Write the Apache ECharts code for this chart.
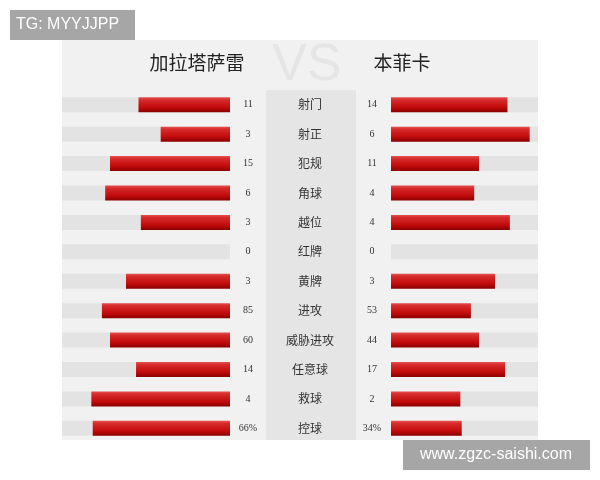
<!DOCTYPE html>
<html><head><meta charset="utf-8">
<script src="https://cdn.jsdelivr.net/npm/echarts@6/dist/echarts.min.js"></script>
<style>html,body{margin:0;padding:0;background:#fff}#c{width:600px;height:480px}</style>
</head><body><div id="c"></div>
<script>
const categories = ['射门','射正','犯规','角球','越位','红牌','黄牌','进攻','威胁进攻','任意球','救球','控球'];
const homeValues = [11,3,15,6,3,0,3,85,60,14,4,66];
const awayValues = [14,6,11,4,4,0,3,53,44,17,2,34];
const valueUnits = ['','','','','','','','','','','','%'];
const homeTeam = '加拉塔萨雷';
const awayTeam = '本菲卡';

const homeLabels = homeValues.map((v,i)=>v+valueUnits[i]);
const awayLabels = awayValues.map((v,i)=>v+valueUnits[i]);
// bar length = share of the row total (percent)
const homeShare = homeValues.map((v,i)=>{const t=v+awayValues[i];return t?100*v/t:0;});
const awayShare = awayValues.map((v,i)=>{const t=homeValues[i]+v;return t?100*v/t:0;});

const LEFT_MAX = 100*168/208, RIGHT_MAX = 100*147/208;
const red = new echarts.graphic.LinearGradient(0,0,0,1,[
  {offset:0,color:'#e65252'},{offset:0.18,color:'#d62b2b'},{offset:0.65,color:'#c40c0c'},{offset:1,color:'#8c0000'}]);
const bgColor = '#e3e3e3';
const gridTop = 90, gridH = 353;
const chart = echarts.init(document.getElementById('c'));
chart.setOption({
  animation:false,
  graphic:[
    {type:'rect',shape:{x:62,y:40,width:476,height:400},style:{fill:'#f1f1f1'},z:-10},
    {type:'rect',shape:{x:266,y:90,width:90,height:350},style:{fill:'#e5e5e5'},z:-9},
    {type:'text',x:307,y:66,style:{text:'VS',fill:'#e5e5e5',font:'52px "Liberation Sans", Arial, sans-serif',textAlign:'center',textVerticalAlign:'middle'},z:-8},
    {type:'text',x:197,y:63,style:{text:homeTeam,fill:'#222',font:'19px "Noto Sans CJK SC", sans-serif',textAlign:'center',textVerticalAlign:'middle'}},
    {type:'text',x:402,y:63,style:{text:awayTeam,fill:'#222',font:'19px "Noto Sans CJK SC", sans-serif',textAlign:'center',textVerticalAlign:'middle'}},
    {type:'rect',shape:{x:10,y:10,width:125,height:30},style:{fill:'#a6a6a6'}},
    {type:'text',x:16,y:25,style:{text:'TG: MYYJJPP',fill:'#fff',font:'16px "Liberation Sans", Arial, sans-serif',textVerticalAlign:'middle'}},
    {type:'rect',shape:{x:403,y:440,width:187,height:30},style:{fill:'#a6a6a6'}},
    {type:'text',x:496,y:455,style:{text:'www.zgzc-saishi.com',fill:'#fff',font:'16px "Liberation Sans", Arial, sans-serif',textAlign:'center',textVerticalAlign:'middle'}}
  ],
  grid:[
    {left:62,width:168,top:gridTop,height:gridH},
    {left:391,width:147,top:gridTop,height:gridH},
    {left:266,width:90,top:gridTop,height:gridH}
  ],
  xAxis:[
    {gridIndex:0,type:'value',min:0,max:LEFT_MAX,inverse:true,show:false},
    {gridIndex:1,type:'value',min:0,max:RIGHT_MAX,show:false},
    {gridIndex:2,type:'value',min:0,max:1,show:false}
  ],
  yAxis:[
    {gridIndex:0,type:'category',data:homeLabels,inverse:true,position:'right',axisLine:{show:false},axisTick:{show:false},
      axisLabel:{align:'center',margin:18,color:'#333',fontSize:10,fontFamily:'"Liberation Serif", serif'}},
    {gridIndex:1,type:'category',data:awayLabels,inverse:true,position:'left',axisLine:{show:false},axisTick:{show:false},
      axisLabel:{align:'center',margin:19,color:'#333',fontSize:10,fontFamily:'"Liberation Serif", serif'}},
    {gridIndex:2,type:'category',data:categories,inverse:true,position:'left',axisLine:{show:false},axisTick:{show:false},
      axisLabel:{align:'center',margin:-44,color:'#333',fontSize:12,fontFamily:'"Noto Sans CJK SC", sans-serif'}}
  ],
  series:[
    {type:'bar',xAxisIndex:0,yAxisIndex:0,data:categories.map(()=>LEFT_MAX),barWidth:15,itemStyle:{color:bgColor},silent:true},
    {type:'bar',xAxisIndex:0,yAxisIndex:0,data:homeShare,barWidth:15,barGap:'-100%',itemStyle:{color:red},silent:true},
    {type:'bar',xAxisIndex:1,yAxisIndex:1,data:categories.map(()=>RIGHT_MAX),barWidth:15,itemStyle:{color:bgColor},silent:true},
    {type:'bar',xAxisIndex:1,yAxisIndex:1,data:awayShare,barWidth:15,barGap:'-100%',itemStyle:{color:red},silent:true}
  ]
});
</script></body></html>
